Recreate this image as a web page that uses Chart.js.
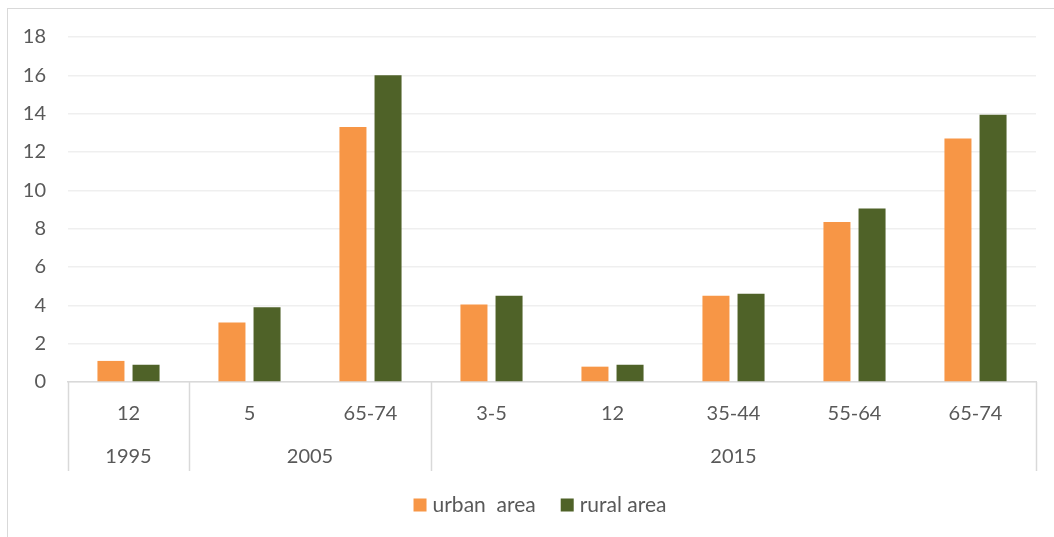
<!DOCTYPE html>
<html>
<head>
<meta charset="utf-8">
<title>urban vs rural</title>
<script src="https://cdn.jsdelivr.net/npm/chart.js@4.4.1/dist/chart.umd.min.js"></script>
<style>
  html, body { margin: 0; padding: 0; background: #fff; }
  #wrap { position: relative; width: 1054px; height: 537px; }
  #frame { position: absolute; left: 7px; top: 8px; width: 1060px; height: 540px;
           border-top: 1px solid #d9d9d9; border-left: 1px solid #d9d9d9; }
  canvas { position: absolute; left: 0; top: 0; }
</style>
</head>
<body>
<div id="wrap">
  <div id="frame"></div>
  <canvas id="myChart" width="1054" height="537"></canvas>
</div>
<script>
// age groups on the x axis, and the survey year each one belongs to
var ageGroups = ["12", "5", "65-74", "3-5", "12", "35-44", "55-64", "65-74"];
var years = ["1995", "2005", "2015"];
var yearSpans = [1, 2, 5];   // number of age groups under each year

var urban = [1.1, 3.1, 13.3, 4.05, 0.8, 4.5, 8.35, 12.7];
var rural = [0.9, 3.9, 16.0, 4.5, 0.9, 4.6, 9.05, 13.95];

var yTicks = [0, 2, 4, 6, 8, 10, 12, 14, 16, 18];

var FONT = "Lato, 'Open Sans', sans-serif";
var FSIZE = 20;
var TEXT = "#595959";
var LINE = "#d9d9d9";

// separators + year labels below the age group ticks
var yearAxis = {
    id: 'yearAxis',
    afterDraw: function(chart) {
        var ctx = chart.ctx;
        var x = chart.scales.x;
        var top = chart.chartArea.bottom;
        var half = (x.getPixelForValue(1) - x.getPixelForValue(0)) / 2;
        ctx.save();
        ctx.strokeStyle = LINE;
        ctx.lineWidth = 1.5;
        var idx = 0;
        var bounds = [x.getPixelForValue(0) - half];
        for (var i = 0; i < yearSpans.length; i++) {
            idx += yearSpans[i];
            bounds.push(x.getPixelForValue(idx - 1) + half);
        }
        bounds.forEach(function(b) {
            ctx.beginPath();
            ctx.moveTo(Math.round(b) + 0.5, top);
            ctx.lineTo(Math.round(b) + 0.5, top + 89);
            ctx.stroke();
        });
        ctx.fillStyle = TEXT;
        ctx.font = FSIZE + "px " + FONT;
        ctx.textAlign = "center";
        ctx.textBaseline = "middle";
        for (var j = 0; j < years.length; j++) {
            ctx.fillText(years[j], (bounds[j] + bounds[j + 1]) / 2, top + 75);
        }
        ctx.restore();
    }
};

// legend row under the axis: small squares with the dataset names
var bottomLegend = {
    id: 'bottomLegend',
    afterDraw: function(chart) {
        var ctx = chart.ctx;
        var sets = chart.data.datasets;
        var box = 13, textGap = 6, itemGap = 25;
        var y = 505.5;
        ctx.save();
        ctx.font = "21px " + FONT;
        ctx.textBaseline = "middle";
        ctx.textAlign = "left";
        var total = 0;
        sets.forEach(function(ds, i) {
            total += box + textGap + ctx.measureText(ds.label).width;
            if (i < sets.length - 1) total += itemGap;
        });
        var xPos = chart.width / 2 + 13 - total / 2;
        sets.forEach(function(ds) {
            ctx.fillStyle = ds.backgroundColor;
            ctx.fillRect(xPos, y - 7, box, box);
            xPos += box + textGap;
            ctx.fillStyle = TEXT;
            ctx.fillText(ds.label, xPos, y);
            xPos += ctx.measureText(ds.label).width + itemGap;
        });
        ctx.restore();
    }
};

var ctx = document.getElementById("myChart").getContext('2d');
var myChart = new Chart(ctx, {
    type: 'bar',
    data: {
        labels: ageGroups,
        datasets: [
            {
                label: "urban  area",
                backgroundColor: "#f79646",
                data: urban
            },
            {
                label: "rural area",
                backgroundColor: "#4f6228",
                data: rural
            }
        ]
    },
    plugins: [yearAxis, bottomLegend],
    options: {
        responsive: false,
        animation: false,
        layout: { padding: { top: 37, right: 18, left: 0, bottom: 50 } },
        datasets: {
            bar: { categoryPercentage: 0.58, barPercentage: 0.77 }
        },
        plugins: {
            tooltip: { enabled: false },
            legend: { display: false }
        },
        scales: {
            x: {
                grid: { display: false, drawTicks: false },
                border: { color: LINE, width: 1.5 },
                ticks: {
                    color: TEXT,
                    padding: 20,
                    font: { family: FONT, size: FSIZE },
                    maxRotation: 0
                },
                afterFit: function(scale) { scale.height = 105; }
            },
            y: {
                min: 0,
                max: 18,
                afterBuildTicks: function(scale) {
                    scale.ticks = yTicks.map(function(v) { return { value: v }; });
                },
                grid: { color: "#efefef", lineWidth: 1.5, drawTicks: false },
                border: { display: false },
                ticks: {
                    color: TEXT,
                    padding: 22,
                    font: { family: FONT, size: FSIZE }
                },
                afterFit: function(scale) { scale.width = 68; }
            }
        }
    }
});
</script>
</body>
</html>
